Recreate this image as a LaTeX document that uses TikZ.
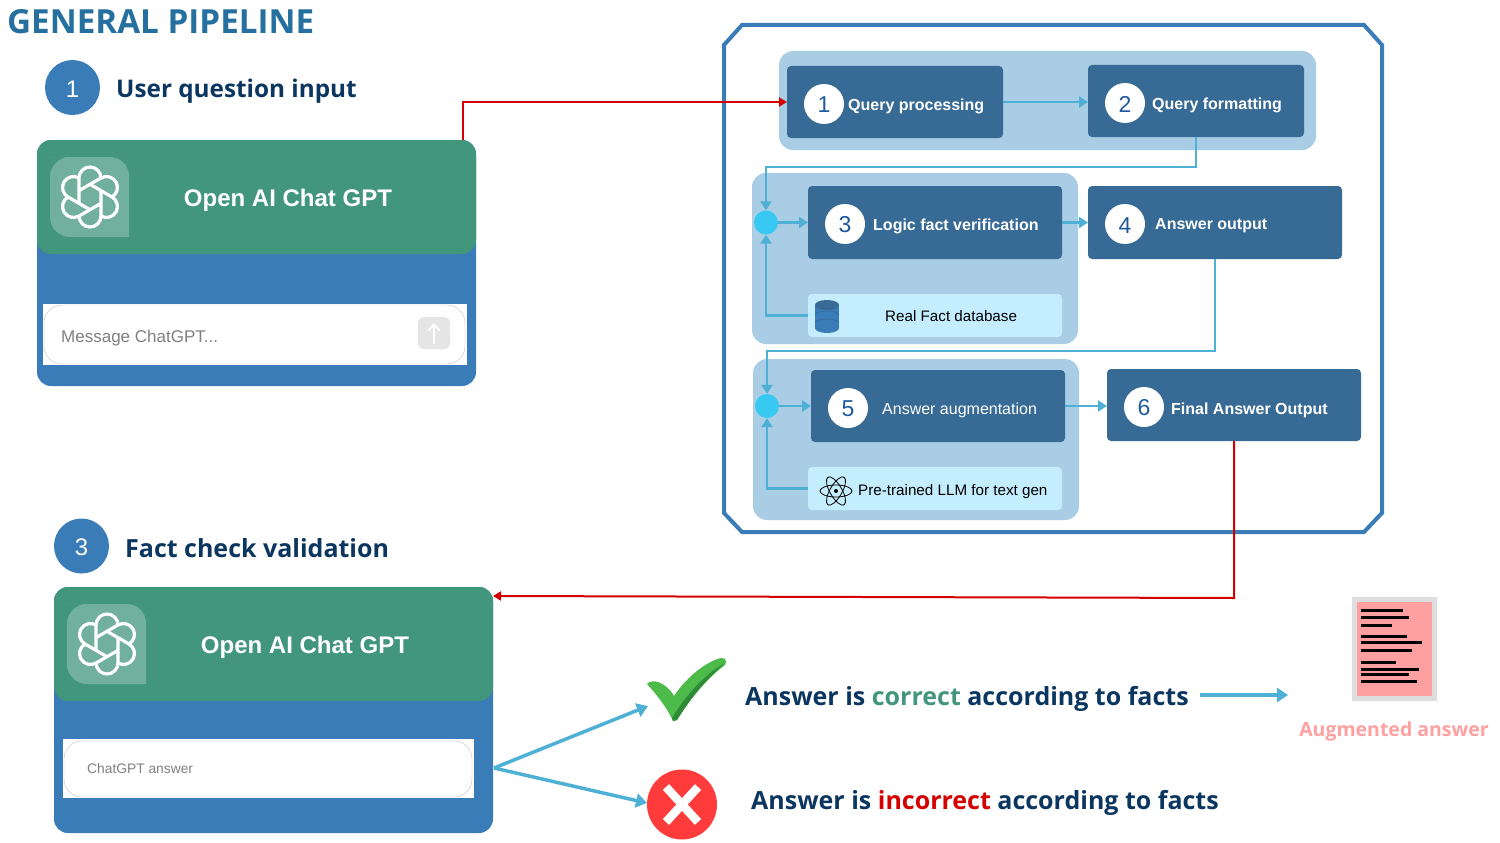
\documentclass[tikz,border=0pt]{standalone}
\usepackage{fontspec}
\setmainfont{Liberation Sans}
\newfontfamily\headfont{Open Sans}
\usetikzlibrary{arrows.meta}
\definecolor{chatblue}{HTML}{3A7CB8}
\definecolor{chatgreen}{HTML}{42967C}
\definecolor{groupblue}{HTML}{A8CDE4}
\definecolor{boxblue}{HTML}{376A95}
\definecolor{palecyan}{HTML}{C4EDFE}
\definecolor{linkcyan}{HTML}{4FB0D5}
\definecolor{joincyan}{HTML}{38C9F3}
\definecolor{linkred}{HTML}{D40000}
\definecolor{inkblue}{HTML}{0B3660}
\definecolor{titleblue}{HTML}{25709F}
\definecolor{digitblue}{HTML}{1F5A9E}
\definecolor{pinkdoc}{HTML}{FFA0A0}
\definecolor{tickgreen}{HTML}{4DBB4A}
\definecolor{tickdark}{HTML}{2E8B36}
\definecolor{crossred}{HTML}{FF3B3B}
\tikzset{
  box/.style={minimum width=#1, inner sep=0pt, outer sep=0pt, rounded corners=4pt},
  group/.style={fill=groupblue, rounded corners=14pt},
  stage/.style={box=254pt, minimum height=73pt, fill=boxblue},
  query/.style={box=216pt, minimum height=72pt, fill=boxblue},
  helper/.style={box=254pt, minimum height=43pt, fill=palecyan},
  num/.style={circle, fill=white, text=digitblue, minimum size=40pt, inner sep=0pt, text height=18pt, font=\fontsize{23}{23}\selectfont},
  stepnum/.style={circle, fill=chatblue, text=white, minimum size=55pt, inner sep=0pt, text height=19pt, font=\fontsize{24}{24}\selectfont},
  boxlabel/.style={anchor=west, inner sep=0pt, text=white, font=\fontsize{16}{16}\selectfont\bfseries},
  heading/.style={anchor=west, inner sep=0pt, text=inkblue, font=\headfont\fontsize{25}{25}\selectfont\bfseries},
  joindot/.style={circle, fill=joincyan, minimum size=24pt, inner sep=0pt},
  chatbody/.style={box=439pt, minimum height=246pt, fill=chatblue, rounded corners=14pt},
  chathead/.style={box=439pt, minimum height=114pt, fill=chatgreen, rounded corners=14pt},
  chattext/.style={inner sep=0pt, text=white, font=\fontsize{24}{24}\selectfont\bfseries},
  link/.style={draw=linkcyan, line width=2.2pt, -{Triangle[length=9pt,width=11pt]}},
  biglink/.style={draw=linkcyan, line width=3.5pt, -{Triangle[length=11pt,width=14pt]}},
  redlink/.style={draw=linkred, line width=2pt, -{Triangle[length=8pt,width=9pt]}},
  pics/gpttile/.style={code={
    \fill[white, fill opacity=.25] (-40,-40) -- (20,-40) arc (-90:0:19) -- (39,40) -- (-20,40) arc (90:180:20) -- (-40,-20) arc (180:270:20) -- cycle;
    \foreach \a in {0,60,...,300} {
      \draw[white, line width=3.2pt, line join=round, rotate=\a] (-11,19) arc (180:0:11) -- ++(0,-25);
    }
  }}
}
\begin{document}
\begin{tikzpicture}[x=1pt, y=-1pt]
\useasboundingbox (0,0) rectangle (1500,843);
\node[anchor=west, inner sep=0pt, text=titleblue, font=\headfont\fontsize{33.2}{33}\selectfont\bfseries] (title) at (7,22) {GENERAL PIPELINE};

% left column, top
\node[stepnum] (stepA) at (72.5,87.5) {1};
\node[heading, font=\headfont\fontsize{24.3}{24}\selectfont\bfseries] (stepAtext) at (116,91) {User question input};
\node[chatbody] (chatA) at (256.5,263) {};
\node[chathead] (headA) at (256.5,197) {};
\pic at (90,197) {gpttile};
\node[chattext] (nameA) at (288,200) {Open AI Chat GPT};
\node[fill=white, minimum width=424pt, minimum height=61pt, inner sep=0pt] (inputA) at (255,334.5) {};
\node[draw=black!25, fill=white, rounded corners=18pt, minimum width=421pt, minimum height=59pt, inner sep=0pt] (fieldA) at (254.5,334.5) {};
\node[anchor=west, inner sep=0pt, text=black!50, font=\fontsize{17}{17}\selectfont] (promptA) at (61,338) {Message ChatGPT...};
\node[fill=black!10, rounded corners=6pt, minimum size=32pt, inner sep=0pt] (send) at (434,333) {};
\draw[white, line width=1.8pt, -{Straight Barb[length=6pt,width=11pt]}] (434,344) -- (434,323);

% left column, bottom
\node[stepnum] (stepC) at (81.5,546) {3};
\node[heading] (stepCtext) at (125,548) {Fact check validation};
\node[chatbody] (chatB) at (273.5,710) {};
\node[chathead] (headB) at (273.5,644) {};
\pic at (107,644) {gpttile};
\node[chattext] (nameB) at (305,647) {Open AI Chat GPT};
\node[fill=white, minimum width=411pt, minimum height=59pt, inner sep=0pt] (inputB) at (268.5,768.5) {};
\node[draw=black!25, fill=white, rounded corners=18pt, minimum width=408pt, minimum height=56pt, inner sep=0pt] (fieldB) at (268,769) {};
\node[anchor=west, inner sep=0pt, text=black!50, font=\fontsize{13.8}{14}\selectfont] (promptB) at (87,769) {ChatGPT answer};

% pipeline frame
\draw[chatblue, line width=4pt] (742,25) -- (1364,25) -- (1382,45) -- (1382,513) -- (1364,532) -- (742,532) -- (724,513) -- (724,45) -- cycle;
\fill[group] (779,51) rectangle (1316,150);
\fill[group] (752,173) rectangle (1078,344);
\fill[group] (753,359) rectangle (1079,520);

\node[query] (proc) at (895,102) {};
\node[query] (form) at (1196,101) {};
\node[stage] (logic) at (935,222.5) {};
\node[stage] (output) at (1215,222.5) {};
\node[helper] (facts) at (935,315.5) {};
\node[stage, minimum height=72pt] (augm) at (938,406) {};
\node[stage, minimum height=72pt] (final) at (1234,405) {};
\node[helper] (llm) at (935,488.5) {};
\node[joindot] (joinA) at (766,222.5) {};
\node[joindot] (joinB) at (767,406) {};

\node[num] (numA) at (824,104) {1};
\node[num] (numB) at (1125,103) {2};
\node[num] (numC) at (845,224) {3};
\node[num] (numD) at (1125,224) {4};
\node[num] (numE) at (848,408) {5};
\node[num] (numF) at (1144,407) {6};
\node[boxlabel] (textA) at (848,106) {Query processing};
\node[boxlabel] (textB) at (1152,105) {Query formatting};
\node[boxlabel] (textC) at (873,226) {Logic fact verification};
\node[boxlabel] (textD) at (1155,226) {Answer output};
\node[boxlabel, font=\fontsize{16}{16}\selectfont] (textE) at (882,410) {Answer augmentation};
\node[boxlabel] (textF) at (1171,410) {Final Answer Output};
\node[anchor=west, inner sep=0pt, font=\fontsize{15.2}{15}\selectfont] (textG) at (885,316) {Real Fact database};
\node[anchor=west, inner sep=0pt, font=\fontsize{15.2}{15}\selectfont] (textH) at (858,492) {Pre-trained LLM for text gen};

% database and atom icons
\fill[chatblue] (815,305) rectangle (839,328);
\fill[chatblue] (827,328) ellipse (12 and 5);
\fill[boxblue] (827,305) ellipse (12 and 5);
\draw[boxblue, line width=.6pt] (815,315) arc (180:360:12 and 4) (815,323) arc (180:360:12 and 4);
\foreach \a in {0,60,120} {
  \draw[black, line width=.8pt, rotate around={\a:(836,491)}] (836,491) ellipse (16 and 6);
}
\fill[black] (836,491) circle (2);

% links inside the frame
\coordinate (bendA) at (766,167);
\coordinate (bendB) at (767,351);
\draw[link] (proc.east) -- (proc.east -| form.west);
\draw[link] (form.south) |- (bendA) -- (joinA.north);
\draw[link] (joinA.east) -- (logic.west);
\draw[link] (logic.east) -- (output.west);
\draw[link] (facts.west) -| (joinA.south);
\draw[link] (output.south) |- (bendB) -- (joinB.north);
\draw[link] (joinB.east) -- (augm.west);
\draw[link] (augm.east) -- (augm.east -| final.west);
\draw[link] (llm.west) -| (joinB.south);

% red links
\coordinate (chatAout) at (463,140);
\coordinate (chatBin) at (493,596);
\coordinate (bendC) at (1234,598);
\draw[redlink] (chatAout) |- (proc.west);
\draw[redlink] (final.south) -- (bendC) -- (chatBin);

% verdicts
\coordinate (chatBout) at (494,768);
\coordinate (tickin) at (648,706);
\coordinate (crossin) at (647,803);
\fill[tickgreen] (647,684) .. controls (652,678) and (666,682) .. (674,696) .. controls (688,675) and (708,661) .. (721,658) .. controls (726,658) and (727,661) .. (725,665) .. controls (704,681) and (688,702) .. (677,720) -- (673,721) .. controls (666,706) and (656,694) .. cycle;
\fill[tickdark] (725,663) .. controls (704,681) and (688,702) .. (677,720) -- (673,721) -- (672,718) .. controls (684,698) and (702,676) .. cycle;
\node[circle, fill=crossred, minimum size=70pt, inner sep=0pt] (cross) at (682,804.5) {};
\draw[white, line width=8.5pt] (666,787) -- (698,822);
\draw[white, line width=8.5pt] (698,787) -- (666,822);
\draw[biglink] (chatBout) -- (tickin);
\draw[biglink] (chatBout) -- (crossin);
\node[heading] (okline) at (745,699) {Answer is \textcolor{chatgreen}{correct} according to facts};
\node[heading] (badline) at (751,803) {Answer is \textcolor{linkred}{incorrect} according to facts};
\coordinate (docin) at (1288,695);
\draw[biglink] ([xshift=11pt]okline.east |- docin) -- (docin);

% document
\node[draw=black!13, line width=5pt, fill=pinkdoc, minimum width=80pt, minimum height=99pt, inner sep=0pt] (doc) at (1394.5,649) {};
\foreach \y/\e in {610/1403, 617/1409, 625/1392, 636/1407, 642/1422, 650/1412, 662/1396, 669/1419, 674/1409, 681/1417} {
  \draw[black, line width=3pt] (1361,\y) -- (\e,\y);
}
\node[inner sep=0pt, text=pinkdoc, font=\headfont\fontsize{19.5}{20}\selectfont\bfseries] (doctext) at (1394,731) {Augmented answer};
\end{tikzpicture}
\end{document}
